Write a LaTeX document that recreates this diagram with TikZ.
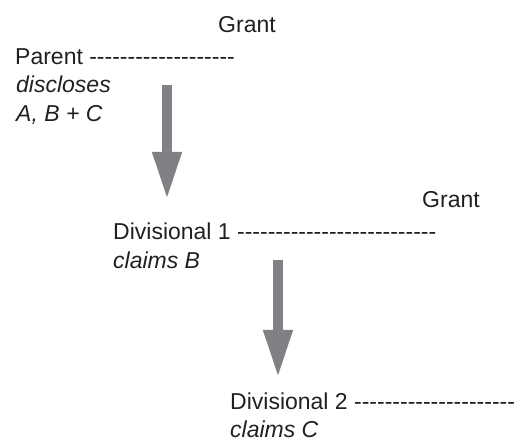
\documentclass[tikz,border=0pt]{standalone}
\usepackage{fontspec}
\setmainfont{Liberation Sans}[Ligatures=TeXOff]
\usetikzlibrary{arrows.meta}
\definecolor{txt}{RGB}{35,31,32}
\definecolor{arr}{RGB}{128,129,132}
\begin{document}
\begin{tikzpicture}[x=1pt,y=1pt,
  lbl/.style={anchor=base west,inner sep=0pt,font=\fontsize{23}{28}\selectfont,text=txt},
  ilbl/.style={lbl,font=\fontsize{23}{28}\selectfont\itshape},
  bigarrow/.style={draw=arr,line width=10pt,-{Triangle[width=27pt,length=48pt,fill=arr]}}]
\useasboundingbox (0,0) rectangle (515,442);
\clip (0,0) rectangle (515,442);
% Parent
\node[lbl] (grant1) at (218,409) {Grant};
\node[lbl] (parent) at (15,377) {Parent -------------------};
\node[ilbl] (disc) at (16,349) {discloses};
\node[ilbl] (abc) at (16,320) {A, B + C};
% Divisional 1
\node[lbl] (grant2) at (422,234) {Grant};
\node[lbl] (div1) at (113,202) {Divisional 1 --------------------------};
\node[ilbl] (clB) at (113,173) {claims B};
% Divisional 2
\node[lbl] (div2) at (230,32) {Divisional 2 ----------------------};
\node[ilbl] (clC) at (230,4) {claims C};
% arrows
\coordinate (a1s) at (167,357);
\coordinate (a1e) at (167,242);
\coordinate (a2s) at (278,182);
\coordinate (a2e) at (278,64);
\draw[bigarrow] (a1s) -- (a1e);
\draw[bigarrow] (a2s) -- (a2e);
\end{tikzpicture}
\end{document}
